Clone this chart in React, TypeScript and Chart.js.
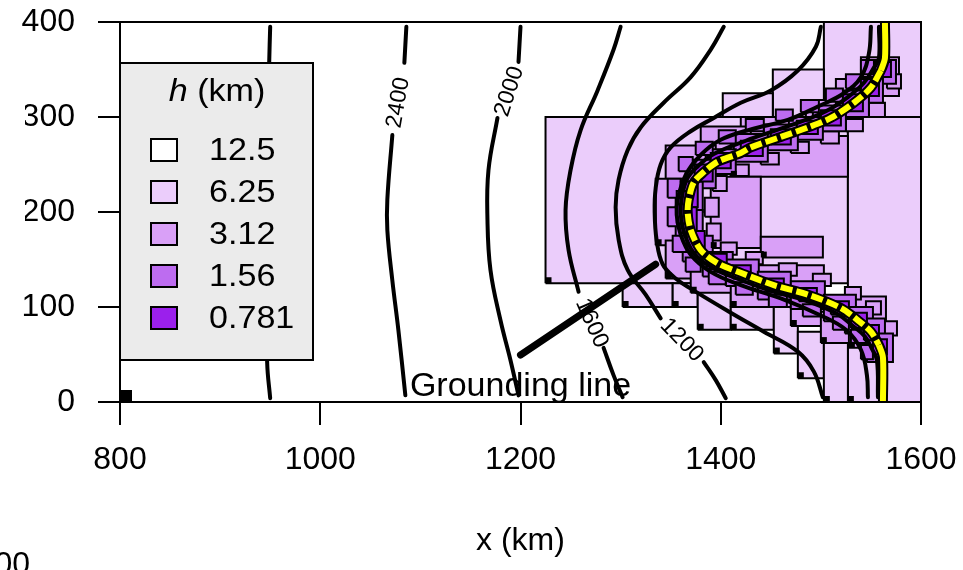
import React, { useEffect, useRef } from "react";
import { Chart, registerables } from "chart.js";
Chart.register(...registerables);

const FONT = '"Liberation Sans", Arial, Helvetica, sans-serif';

// axes
const xTickValues = [800, 1000, 1200, 1400, 1600];
const yTickValues = [0, 100, 200, 300, 400];
const xTitle = "x (km)";

// legend
const legendTitleItalic = "h";
const legendTitleRest = " (km)";
const levelLabels = ["12.5", "6.25", "3.12", "1.56", "0.781"];
const levelColors = ["#ffffff", "#ebcdfb", "#d9a0f7", "#bd6cf0", "#9b20ec"];

// mesh blocks [x0, y0, x1, y1] in km, by cell size
const cells625 = [
  [1225, 125, 1527, 300],
  [1527, 0, 1600, 300],
  [1503, 300, 1600, 400],
  [1452, 300, 1503, 350],
  [1402, 300, 1452, 325],
  [1302, 100, 1352, 125],
  [1352, 100, 1377, 125],
  [1377, 76, 1410, 125],
  [1410, 76, 1453, 100],
  [1453, 51, 1477, 100],
  [1477, 25, 1503, 74],
  [1503, 0, 1527, 62],
];
const cells312 = [
  [1540, 322, 1578, 363],
  [1515, 305, 1550, 340],
  [1485, 292, 1528, 318],
  [1420, 282, 1500, 300],
  [1380, 255, 1430, 290],
  [1410, 237, 1527, 280],
  [1345, 230, 1395, 270],
  [1335, 165, 1372, 235],
  [1390, 162, 1440, 237],
  [1440, 152, 1502, 174],
  [1345, 130, 1390, 170],
  [1370, 115, 1420, 145],
  [1410, 100, 1503, 144],
  [1470, 80, 1528, 108],
  [1500, 62, 1545, 95],
  [1528, 57, 1565, 111],
  [1566, 330, 1580, 345],
  [1548, 300, 1564, 315],
  [1525, 285, 1542, 298],
  [1500, 272, 1518, 285],
  [1470, 262, 1488, 274],
  [1440, 250, 1458, 262],
  [1410, 238, 1428, 250],
  [1392, 222, 1406, 238],
  [1384, 195, 1398, 215],
  [1386, 170, 1400, 188],
  [1400, 155, 1416, 168],
  [1425, 145, 1442, 158],
  [1458, 133, 1476, 146],
  [1492, 122, 1510, 135],
  [1524, 108, 1540, 121],
  [1545, 92, 1560, 106],
  [1562, 70, 1576, 85],
];
const cells156 = [
  [1548, 335, 1575, 360],
  [1532, 315, 1562, 342],
  [1515, 300, 1548, 328],
  [1492, 285, 1525, 312],
  [1468, 276, 1502, 300],
  [1443, 265, 1477, 292],
  [1413, 253, 1447, 282],
  [1385, 240, 1415, 266],
  [1365, 225, 1395, 255],
  [1355, 200, 1382, 232],
  [1355, 170, 1382, 202],
  [1362, 148, 1392, 175],
  [1382, 132, 1412, 158],
  [1405, 122, 1438, 150],
  [1437, 108, 1470, 137],
  [1470, 98, 1504, 127],
  [1503, 85, 1535, 113],
  [1524, 72, 1552, 100],
  [1538, 58, 1564, 88],
  [1546, 42, 1572, 72],
  [1540, 345, 1553, 360],
  [1525, 330, 1540, 345],
  [1505, 316, 1522, 330],
  [1480, 305, 1498, 318],
  [1455, 296, 1472, 308],
  [1425, 285, 1443, 298],
  [1398, 272, 1415, 286],
  [1375, 260, 1392, 274],
  [1358, 243, 1372, 258],
  [1347, 215, 1360, 235],
  [1347, 185, 1360, 205],
  [1352, 158, 1366, 175],
  [1365, 137, 1380, 152],
  [1388, 124, 1405, 137],
  [1415, 113, 1432, 126],
  [1448, 100, 1466, 113],
  [1482, 90, 1500, 103],
  [1512, 76, 1528, 90],
  [1530, 62, 1545, 76],
  [1540, 45, 1552, 60],
];
const cells078 = [
  [1554, 342, 1570, 358],
  [1540, 322, 1558, 340],
  [1522, 306, 1542, 324],
  [1500, 291, 1520, 307],
  [1476, 282, 1497, 296],
  [1450, 271, 1470, 287],
  [1420, 259, 1442, 275],
  [1390, 246, 1410, 262],
  [1374, 232, 1392, 250],
  [1360, 205, 1377, 232],
  [1359, 178, 1376, 205],
  [1366, 158, 1384, 180],
  [1386, 140, 1406, 156],
  [1412, 130, 1430, 144],
  [1445, 116, 1463, 130],
  [1478, 106, 1496, 120],
  [1510, 92, 1528, 106],
  [1530, 78, 1546, 94],
  [1543, 65, 1558, 81],
  [1552, 50, 1566, 66],
  [1356, 188, 1366, 222],
];
const cornerMarks = [
  [1228, 128.2], [1305, 103.2], [1355, 103.2], [1380, 79.2], [1413, 79.2],
  [1456, 54.2], [1480, 28.2], [1506, 3.2], [1530, 3.2], [1443, 155.2],
  [1393, 165.2], [1413, 240.2], [1338, 168.2], [1348, 133.2], [1373, 118.2],
  [1413, 103.2], [1473, 83.2], [1503, 65.2], [1531, 60.2],
];
const originMark = [806, 6.3];

// surface elevation contours (null = label gap)
type P = number[] | null;
const contourOuter: P[] = [[950, 395], [949, 357], [947, 250], [946, 150], [947, 41], [950, 4]];
const contour2400: P[] = [[1086, 395], [1084, 357], null, [1072, 281], [1067, 213], [1067, 181], [1072, 128], [1078, 76], [1085, 7]];
const contour2000: P[] = [[1200, 395], [1198, 358], null, [1177, 299], [1168, 244], [1167, 192], [1170, 139], [1180, 86], [1190, 44], [1198, 7]];
const contour1600: P[] = [[1300, 395], [1293, 371], [1277, 328], [1260, 286], [1250, 244], [1245, 202], [1248, 160], [1258, 116], null, [1283, 57], [1293, 28], [1302, 5]];
const contour1200: P[] = [[1403, 395], [1390, 371], [1370, 342], [1343, 315], [1320, 289], [1307, 265], [1298, 234], [1295, 205], [1298, 171], [1307, 139], [1325, 113], [1340, 88], null, [1383, 42], [1395, 23], [1405, 4]];
const contour800: P[] = [[1500, 395], [1495, 374], [1477, 349], [1450, 328], [1420, 315], [1393, 299], [1370, 285], [1350, 268], [1340, 250], [1335, 225], [1334, 200], [1336, 170], [1342, 145], [1355, 130], [1372, 118], [1410, 94], [1443, 74], [1477, 53], [1493, 32], [1502, 5]];
const contour400: P[] = [[1550, 395], [1548, 367], [1540, 342], [1523, 325], [1497, 311], [1467, 297], [1430, 287], [1400, 276], [1380, 260], [1365, 239], [1357, 213], [1356, 197], [1360, 176], [1370, 155], [1390, 137], [1420, 123], [1460, 109], [1500, 91], [1525, 76], [1540, 55], [1546, 28], [1547, 5]];
const contourEdge: P[] = [[1558, 395], [1558, 362], [1553, 352], [1543, 336], [1527, 321], [1505, 306], [1482, 296], [1455, 286], [1425, 275], [1393, 261], [1376, 247], [1366, 234], [1361, 214], [1360, 199], [1363, 180], [1373, 157], [1392, 141], [1416, 130], [1450, 117], [1484, 107], [1516, 93], [1532, 80], [1544, 69], [1551, 56], [1556, 44], [1557, 5]];

const contourLabels = ["2400", "2000", "1600", "1200"];
const contourLabelX = [1078, 1189, 1271, 1361];
const contourLabelY = [315, 327, 83, 65];
const contourLabelAngle = [-80, -72, 66, 46];

// grounding line
const glTop = [[1564, 400], [1564, 362], [1560, 349]];
const glCurve = [[1560, 349], [1550, 331], [1533, 315], [1510, 299], [1487, 289], [1460, 279], [1430, 268], [1420, 262], [1397, 253], [1383, 242], [1373, 231], [1368, 213], [1367, 199], [1370, 181], [1380, 160], [1397, 146], [1420, 136], [1453, 123], [1487, 113], [1520, 99], [1537, 86], [1550, 74], [1558, 60]];
const glBottom = [[1558, 60], [1562, 47], [1562, 0]];
const pointerLine = [[1200, 49.5], [1335, 145]];
const groundingText = "Grounding line";
const groundingTextPos = [1200, 6];

const pts = (a: number[][]) => a.map(([x, y]) => ({ x, y }));
const rectPts = ([x0, y0, x1, y1]: number[]) => pts([[x0, y0], [x1, y0], [x1, y1], [x0, y1], [x0, y0]]);
function segments(a: P[]) {
  const out: number[][][] = [];
  let cur: number[][] = [];
  for (const p of a) {
    if (p === null) { if (cur.length) out.push(cur); cur = []; } else cur.push(p);
  }
  if (cur.length) out.push(cur);
  return out;
}

const zeroPad = (s: any) => { s.paddingTop = 0; s.paddingBottom = 0; s.paddingLeft = 0; s.paddingRight = 0; };

export default function App() {
  const ref = useRef<HTMLCanvasElement>(null);
  useEffect(() => {
    const canvas = ref.current;
    if (!canvas) return;
    const datasets: any[] = [];
    const base = { pointRadius: 0, pointHoverRadius: 0, fill: false, tension: 0 };
    [cells625, cells312, cells156, cells078].forEach((cells, li) =>
      cells.forEach((c) =>
        datasets.push({ ...base, data: rectPts(c), backgroundColor: levelColors[li + 1], borderColor: "#000", borderWidth: 2, fill: "shape", borderJoinStyle: "miter" })
      )
    );
    datasets.push({ data: pts(cornerMarks), showLine: false, pointStyle: "rect", pointRadius: 4.2, pointHoverRadius: 4.2, backgroundColor: "#000", borderWidth: 0 });
    datasets.push({ data: pts([originMark]), showLine: false, pointStyle: "rect", pointRadius: 8.5, pointHoverRadius: 8.5, backgroundColor: "#000", borderWidth: 0 });
    [contourOuter, contour2400, contour2000, contour1600, contour1200, contour800, contour400, contourEdge].forEach((c) =>
      segments(c).forEach((seg) =>
        datasets.push({ ...base, data: pts(seg), borderColor: "#000", borderWidth: 4, tension: 0.4, borderCapStyle: "round" })
      )
    );
    datasets.push({ ...base, data: pts([...glTop, ...glCurve.slice(1), ...glBottom.slice(1)]), borderColor: "#000", borderWidth: 10, tension: 0.3, borderCapStyle: "round" });
    datasets.push({ ...base, data: pts(glTop), borderColor: "#ffff00", borderWidth: 6, tension: 0.3 });
    datasets.push({ ...base, data: pts(glCurve), borderColor: "#ffff00", borderWidth: 6, tension: 0.3, borderDash: [12, 4] });
    datasets.push({ ...base, data: pts(glBottom), borderColor: "#ffff00", borderWidth: 6, tension: 0.3 });
    datasets.push({ ...base, data: pts(pointerLine), borderColor: "#000", borderWidth: 7, borderCapStyle: "round" });
    const N = datasets.length;
    datasets.forEach((d, i) => { d.order = N - i; });

    const overlay = {
      id: "overlay",
      afterDatasetsDraw(chart: any) {
        const { ctx, chartArea: ca, scales } = chart;
        const xs = scales.x, ys = scales.y;
        ctx.save();
        ctx.fillStyle = "#000";
        // contour labels
        ctx.font = `23px ${FONT}`;
        ctx.textAlign = "center";
        ctx.textBaseline = "middle";
        contourLabels.forEach((t, i) => {
          ctx.save();
          ctx.translate(xs.getPixelForValue(contourLabelX[i]), ys.getPixelForValue(contourLabelY[i]));
          ctx.rotate((contourLabelAngle[i] * Math.PI) / 180);
          ctx.fillText(t, 0, 0);
          ctx.restore();
        });
        // grounding line text (clipped to plot region)
        ctx.save();
        ctx.beginPath();
        ctx.rect(ca.left, ca.top, ca.right - ca.left, ca.bottom - ca.top);
        ctx.clip();
        ctx.font = `34px ${FONT}`;
        ctx.textAlign = "center";
        ctx.textBaseline = "alphabetic";
        ctx.fillText(groundingText, xs.getPixelForValue(groundingTextPos[0]), ys.getPixelForValue(groundingTextPos[1]));
        ctx.restore();
        // legend box
        const lx = ca.left, ly = ca.top + 41, lw = 193, lh = 297;
        ctx.fillStyle = "#ebebeb";
        ctx.fillRect(lx, ly, lw, lh);
        ctx.strokeStyle = "#000";
        ctx.lineWidth = 2;
        ctx.strokeRect(lx, ly, lw, lh);
        ctx.fillStyle = "#000";
        ctx.textBaseline = "middle";
        ctx.textAlign = "left";
        const sx = 1.1;
        const fs = 31;
        ctx.font = `italic ${fs}px ${FONT}`;
        const w1 = ctx.measureText(legendTitleItalic).width * sx;
        ctx.font = `${fs}px ${FONT}`;
        const w2 = ctx.measureText(legendTitleRest).width * sx;
        const tx0 = lx + 97 - (w1 + w2) / 2;
        const ty = ly + 29;
        ctx.save();
        ctx.translate(tx0, ty);
        ctx.scale(sx, 1);
        ctx.font = `italic ${fs}px ${FONT}`;
        ctx.fillText(legendTitleItalic, 0, 0);
        ctx.font = `${fs}px ${FONT}`;
        ctx.fillText(legendTitleRest, w1 / sx, 0);
        ctx.restore();
        levelLabels.forEach((lab, i) => {
          const cy = ly + 87 + i * 42;
          ctx.fillStyle = levelColors[i];
          ctx.fillRect(lx + 31, cy - 11, 26, 22);
          ctx.strokeStyle = "#000";
          ctx.lineWidth = 2;
          ctx.strokeRect(lx + 31, cy - 11, 26, 22);
          ctx.fillStyle = "#000";
          ctx.save();
          ctx.translate(lx + 89, cy);
          ctx.scale(sx, 1);
          ctx.font = `${fs}px ${FONT}`;
          ctx.fillText(lab, 0, 1);
          ctx.restore();
        });
        // frame
        ctx.strokeStyle = "#000";
        ctx.lineWidth = 2;
        ctx.strokeRect(ca.left, ca.top, ca.right - ca.left, ca.bottom - ca.top);
        ctx.restore();
      },
      afterDraw(chart: any) {
        const { ctx } = chart;
        ctx.save();
        ctx.fillStyle = "#fff";
        ctx.fillRect(0, 95, 25, 135);
        ctx.fillStyle = "#000";
        ctx.font = `32px ${FONT}`;
        ctx.textAlign = "right";
        ctx.textBaseline = "top";
        ctx.fillText("200", 30, 549);
        ctx.restore();
      },
    };

    const tickFont = { family: FONT, size: 32 };
    const chart = new Chart(canvas, {
      type: "line",
      data: { datasets },
      plugins: [overlay],
      options: {
        animation: false,
        responsive: false,
        devicePixelRatio: 1,
        events: [],
        layout: { padding: { top: 22, right: 42, left: 0, bottom: 0 } },
        plugins: { legend: { display: false }, tooltip: { enabled: false } },
        scales: {
          x: {
            type: "linear",
            min: 800,
            max: 1600,
            afterBuildTicks: (s: any) => { s.ticks = xTickValues.map((v) => ({ value: v })); },
            afterFit: (s: any) => { s.height = 168; zeroPad(s); },
            ticks: { font: tickFont, color: "#000", padding: 16, maxRotation: 0, autoSkip: false, callback: (v: any) => String(v) },
            grid: { drawOnChartArea: false, drawTicks: true, tickLength: 23, color: "#000", lineWidth: 2 },
            border: { display: true, color: "#000", width: 2 },
            title: { display: true, text: xTitle, font: tickFont, color: "#000", padding: { top: 0, bottom: 10 } },
          },
          y: {
            type: "linear",
            min: 0,
            max: 400,
            afterBuildTicks: (s: any) => { s.ticks = yTickValues.map((v) => ({ value: v })); },
            afterFit: (s: any) => { s.width = 120; zeroPad(s); },
            ticks: { font: tickFont, color: "#000", padding: 23, autoSkip: false, callback: (v: any) => String(v) },
            grid: { drawOnChartArea: false, drawTicks: true, tickLength: 22, color: "#000", lineWidth: 2 },
            border: { display: true, color: "#000", width: 2 },
          },
        },
      } as any,
    });
    return () => chart.destroy();
  }, []);
  return (
    <div style={{ position: "absolute", left: 0, top: 0, width: 963, height: 570, background: "#fff" }}>
      <canvas ref={ref} width={963} height={570} style={{ width: 963, height: 570, display: "block" }} />
    </div>
  );
}
